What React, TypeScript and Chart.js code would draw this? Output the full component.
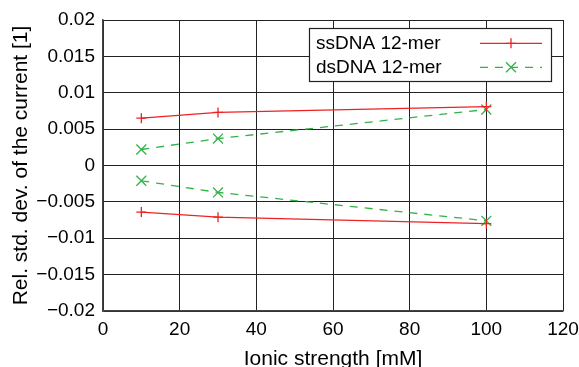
import React, { useEffect, useRef } from 'react';
import { Chart, registerables } from 'chart.js';

Chart.register(...registerables);

const ionicStrength = [10, 30, 100];
const ssUpper = [0.0065, 0.0073, 0.0081];
const ssLower = [-0.0064, -0.0071, -0.008];
const dsUpper = [0.0022, 0.0037, 0.0077];
const dsLower = [-0.0021, -0.0037, -0.0076];
const seriesNames = ['ssDNA 12-mer', 'dsDNA 12-mer'];
const xTickValues = [0, 20, 40, 60, 80, 100, 120];
const xTickLabels = ['0', '20', '40', '60', '80', '100', '120'];
const yTickValues = [-0.02, -0.015, -0.01, -0.005, 0, 0.005, 0.01, 0.015, 0.02];
const yTickLabels = ['\u22120.02', '\u22120.015', '\u22120.01', '\u22120.005', '0', '0.005', '0.01', '0.015', '0.02'];
const xTitle = 'Ionic strength [mM]';
const yTitle = 'Rel. std. dev. of the current [1]';

const RED = '#ee2222';
const GREEN = '#33b24a';
const DASH = [8, 7];
const FONT = '"Liberation Sans", Arial, Helvetica, sans-serif';

const toPoints = (ys: number[]) => ionicStrength.map((x, i) => ({ x, y: ys[i] }));

const legendPlugin = {
  id: 'boxLegend',
  afterDraw(chart: any) {
    const ctx = chart.ctx;
    const ca = chart.chartArea;
    const boxRight = ca.right - 12;
    const boxLeft = boxRight - 242;
    const boxTop = ca.top + 8;
    const boxH = 53;
    ctx.save();
    ctx.fillStyle = '#ffffff';
    ctx.fillRect(boxLeft, boxTop, boxRight - boxLeft, boxH);
    ctx.strokeStyle = '#222';
    ctx.lineWidth = 1.2;
    ctx.strokeRect(boxLeft + 0.5, boxTop + 0.5, boxRight - boxLeft, boxH);
    ctx.fillStyle = '#000';
    ctx.font = `19px ${FONT}`;
    ctx.textBaseline = 'alphabetic';
    ctx.textAlign = 'left';
    const rows = [
      { text: seriesNames[0], color: RED, dash: [] as number[], style: 'cross', base: 21, line: 15.3 },
      { text: seriesNames[1], color: GREEN, dash: DASH, style: 'crossRot', base: 45, line: 39.3 },
    ];
    rows.forEach((r) => {
      ctx.fillStyle = '#000';
      ctx.fillText(r.text, boxLeft + 7, boxTop + r.base);
      const y = boxTop + r.line;
      const x0 = boxLeft + 171;
      const x1 = boxLeft + 233;
      ctx.strokeStyle = r.color;
      ctx.lineWidth = 1.3;
      ctx.setLineDash(r.dash);
      ctx.beginPath();
      ctx.moveTo(x0, y);
      ctx.lineTo(x1, y);
      ctx.stroke();
      ctx.setLineDash([]);
      const cx = (x0 + x1) / 2;
      ctx.beginPath();
      if (r.style === 'cross') {
        ctx.moveTo(cx - 5, y);
        ctx.lineTo(cx + 5, y);
        ctx.moveTo(cx, y - 5);
        ctx.lineTo(cx, y + 5);
      } else {
        ctx.moveTo(cx - 5, y - 5);
        ctx.lineTo(cx + 5, y + 5);
        ctx.moveTo(cx - 5, y + 5);
        ctx.lineTo(cx + 5, y - 5);
      }
      ctx.stroke();
    });
    ctx.restore();
  },
};

export default function App() {
  const ref = useRef<HTMLCanvasElement | null>(null);
  useEffect(() => {
    if (!ref.current) return;
    const mk = (label: string, ys: number[], color: string, dash: number[], style: string, radius: number) => ({
      label,
      data: toPoints(ys),
      borderColor: color,
      backgroundColor: color,
      borderWidth: 1.3,
      borderDash: dash,
      pointStyle: style,
      pointRadius: radius,
      pointBorderWidth: 1.3,
      pointBorderColor: color,
      showLine: true,
      fill: false,
      tension: 0,
    });
    const chart = new Chart(ref.current, {
      type: 'scatter',
      data: {
        datasets: [
          mk(seriesNames[0], ssUpper, RED, [], 'cross', 5),
          mk(seriesNames[0], ssLower, RED, [], 'cross', 5),
          mk(seriesNames[1], dsUpper, GREEN, DASH, 'crossRot', 7),
          mk(seriesNames[1], dsLower, GREEN, DASH, 'crossRot', 7),
        ] as any,
      },
      options: {
        animation: false,
        responsive: false,
        layout: { padding: { top: 20, right: 16, left: 0, bottom: 0 } },
        plugins: { legend: { display: false }, tooltip: { enabled: false } },
        scales: {
          x: {
            type: 'linear',
            min: 0,
            max: 120,
            afterBuildTicks: (s: any) => {
              s.ticks = xTickValues.map((v) => ({ value: v }));
            },
            afterFit: (s: any) => {
              s.height = 56;
              s.paddingLeft = 0;
              s.paddingRight = 0;
            },
            ticks: {
              color: '#000',
              font: { family: FONT, size: 19 },
              padding: 7,
              maxRotation: 0,
              callback: (_v: any, i: number) => xTickLabels[i],
            },
            grid: { color: '#222', lineWidth: 1, drawTicks: false },
            border: { color: '#444', width: 1.5 },
            title: {
              display: true,
              text: xTitle,
              color: '#000',
              font: { family: FONT, size: 21 },
              padding: { top: 0, bottom: -5 },
            },
          },
          y: {
            type: 'linear',
            min: -0.02,
            max: 0.02,
            afterBuildTicks: (s: any) => {
              s.ticks = yTickValues.map((v) => ({ value: v }));
            },
            afterFit: (s: any) => {
              s.width = 103;
              s.paddingTop = 0;
              s.paddingBottom = 0;
            },
            ticks: {
              color: '#000',
              font: { family: FONT, size: 19 },
              padding: 8,
              callback: (_v: any, i: number) => yTickLabels[i],
            },
            grid: { color: '#222', lineWidth: 1, drawTicks: false },
            border: { color: '#444', width: 1.5 },
            title: {
              display: true,
              text: yTitle,
              color: '#000',
              font: { family: FONT, size: 21 },
              padding: { top: 9, bottom: 0 },
            },
          },
        },
      } as any,
      plugins: [legendPlugin],
    });
    return () => chart.destroy();
  }, []);
  return (
    <div style={{ position: 'absolute', left: 0, top: 0, width: 579, height: 367, background: '#fff' }}>
      <canvas ref={ref} width={579} height={367} style={{ display: 'block' }} />
    </div>
  );
}
